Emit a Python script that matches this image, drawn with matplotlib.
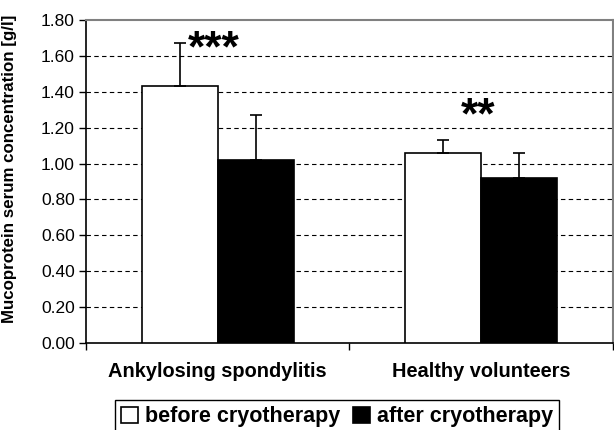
import numpy as np
from matplotlib import pyplot as plt

plt.rcParams['font.family'] = ['Liberation Sans', 'DejaVu Sans']

groups = ['Ankylosing spondylitis', 'Healthy volunteers']
before = [1.43, 1.06]
before_err = [0.24, 0.07]
after = [1.02, 0.92]
after_err = [0.25, 0.14]
stars = ['***', '**']
y_ticks = [0.0, 0.2, 0.4, 0.6, 0.8, 1.0, 1.2, 1.4, 1.6, 1.8]

fig = plt.figure(figsize=(6.14, 4.30), dpi=100)
ax = fig.add_axes([0.140, 0.2023, 0.858, 0.7512])

x = np.arange(len(groups))
w = 0.288
err_kw = dict(elinewidth=1.2, capthick=1.2, ecolor='black')
ax.bar(x - w / 2, before, w, yerr=[[0, 0], before_err], capsize=4,
       color='white', edgecolor='black', linewidth=1.2, error_kw=err_kw,
       label='before cryotherapy', zorder=3)
ax.bar(x + w / 2, after, w, yerr=[[0, 0], after_err], capsize=4,
       color='black', edgecolor='black', linewidth=1.2, error_kw=err_kw,
       label='after cryotherapy', zorder=3)

# significance marks
ax.text(-0.113, 1.572, stars[0], fontsize=32, fontweight='bold',
        ha='left', va='baseline')
ax.text(0.988, 1.197, stars[1], fontsize=32, fontweight='bold',
        ha='center', va='baseline')

ax.set_xlim(-0.5, 1.5)
ax.set_ylim(0, 1.8)
ax.set_yticks(y_ticks)
ax.set_yticklabels(['%.2f' % v for v in y_ticks], fontsize=12.5)
ax.set_xticks([-0.5, 0.5, 1.5])
ax.set_xticklabels([])
ax.set_xticks(x, minor=True)
ax.set_xticklabels(groups, minor=True, fontsize=14.4, fontweight='bold')
ax.tick_params(axis='x', which='minor', length=0, pad=14)
ax.tick_params(axis='x', which='major', direction='out', length=5, width=1)
ax.tick_params(axis='y', direction='out', length=5, width=1, pad=3)

for v in y_ticks[1:-1]:
    ax.axhline(v, color='black', linestyle=(0, (4, 3)), linewidth=0.8, zorder=1)

ax.spines['left'].set_linewidth(1.2)
ax.spines['bottom'].set_linewidth(1.2)
ax.spines['top'].set_color('#808080')
ax.spines['right'].set_color('#808080')
ax.spines['top'].set_linewidth(1.5)
ax.spines['right'].set_linewidth(1.5)

ax.set_ylabel('Mucoprotein serum concentration [g/l]', fontsize=12.2,
              fontweight='bold')
ax.yaxis.set_label_coords(-0.131, 0.539)

leg = fig.legend(loc='upper center', bbox_to_anchor=(0.549, 0.0698), ncol=2,
                 fancybox=False, edgecolor='black', framealpha=1,
                 prop={'weight': 'bold', 'size': 15.5}, handlelength=0.8,
                 handleheight=0.8, handletextpad=0.3, columnspacing=0.6,
                 borderpad=0.3, borderaxespad=0)
leg.get_frame().set_linewidth(1)

fig.savefig('out.png', dpi=100)
